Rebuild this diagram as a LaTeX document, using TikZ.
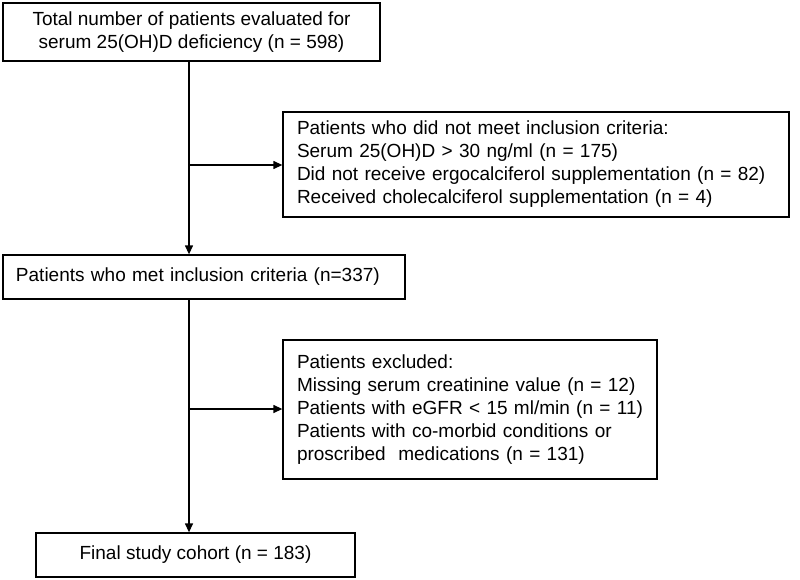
\documentclass[tikz,border=0pt]{standalone}
\usepackage{fontspec}
\setmainfont{Liberation Sans}
\usetikzlibrary{arrows.meta}
\tikzset{
	flowbox/.style={draw, line width=1.3pt, inner xsep=14pt, inner ysep=0pt},
}
\begin{document}
\begin{tikzpicture}[x=1pt, y=-1pt, >={Triangle[length=9pt,width=8pt]}, line width=1.3pt,
	font=\fontsize{19}{23}\selectfont]
	\useasboundingbox (0,0) rectangle (800,580);
	\coordinate (spine) at (189,0);
	
	\node[flowbox, minimum width=377pt, minimum height=58pt, align=center] (total) at (191.5,32)
		{Total number of patients evaluated for\\serum 25(OH)D deficiency (n = 598)};
	\node[flowbox, minimum width=506pt, minimum height=105pt, text width=478pt, align=left] (notmet) at (536,164.5)
		{Patients who did not meet inclusion criteria:\\Serum 25(OH)D > 30 ng/ml (n = 175)\\Did not receive ergocalciferol supplementation (n = 82)\\Received cholecalciferol supplementation (n = 4)};
	\node[flowbox, minimum width=402pt, minimum height=44pt, inner xsep=13pt, text width=376pt, align=left] (met) at (204,277)
		{Patients who met inclusion criteria (n=337)};
	\node[flowbox, minimum width=374pt, minimum height=139pt, text width=346pt, align=left] (excl) at (470,409.5)
		{Patients excluded:\\Missing serum creatinine value (n = 12)\\Patients with eGFR < 15 ml/min (n = 11)\\Patients with co-morbid conditions or\\proscribed\ \ medications (n = 131)\\[6pt]};
	\node[flowbox, minimum width=319pt, minimum height=44pt, align=center] (final) at (195.5,555)
		{Final study cohort (n = 183)};
	
	\coordinate (b1) at (189,165);
	\coordinate (b2) at (189,409);
	\draw[->] (total.south -| spine) -- (met.north -| spine);
	\draw[->] (met.south -| spine) -- (final.north -| spine);
	\draw[->] (b1) -- (b1 -| notmet.west);
	\draw[->] (b2) -- (b2 -| excl.west);
\end{tikzpicture}
\end{document}
